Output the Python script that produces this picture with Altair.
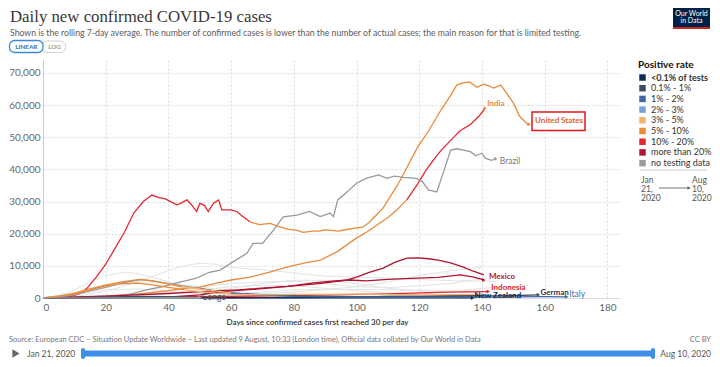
import altair as alt
import pandas as pd

# ---------------- data ----------------
RATE_CATS = ["<0.1% of tests", "0.1% - 1%", "1% - 2%", "2% - 3%", "3% - 5%",
             "5% - 10%", "10% - 20%", "more than 20%", "no testing data"]
RATE_COLORS = ["#102a54", "#3c4a64", "#3f67a6", "#78a2d8", "#f5b46d",
               "#ea8a3c", "#e5262d", "#b0132f", "#9a9a9a"]

X_TICKS = [0, 20, 40, 60, 80, 100, 120, 140, 160, 180]
Y_TICKS = [0, 10000, 20000, 30000, 40000, 50000, 60000, 70000]

# (days since 30 cases/day, thousand cases/day)
us_red = [(0, 0.03), (4, 0.2), (8, 0.5), (10, 0.8), (12, 1.5), (14, 3), (17, 6.5), (20, 10.5),
          (23, 15.5), (26, 20.5), (29, 26.5), (32, 30), (34.7, 32), (37, 31.2), (39, 30.8),
          (41, 29.8), (42.7, 29), (44, 29.5), (45.9, 30.5), (47, 29.4), (49, 26.9), (50, 29.4),
          (51.5, 28.8), (52.7, 26.9), (54.4, 29.5), (56, 30.5), (57, 27.4), (60, 27.4),
          (61.8, 26.9), (63.5, 25.5), (66, 23.7)]
us_orange = [(66, 23.7), (69, 22.8), (72.5, 23.2), (75, 22.3), (78, 21.4), (81, 21), (83, 20.4),
             (86, 20.8), (88, 20.8), (90, 21.2), (92, 21), (94, 20.8), (97, 21.3), (100, 21.8),
             (102, 22), (104, 23.5), (106, 25.5), (108.5, 28), (111, 32), (113, 35), (116, 40.5),
             (119.5, 47), (123, 52), (127, 58.6), (130, 63), (132, 66.3), (134, 66.9),
             (136, 67.2), (138.4, 65.5), (140.5, 66.5), (142, 66), (143.7, 65.3), (146, 66.2),
             (148, 63.5), (150, 60.6), (152, 56.5), (154, 54.5), (155, 54)]
india_orange = [(0, 0.03), (10, 0.2), (20, 0.5), (30, 1.2), (40, 2.3), (45, 3), (50, 3.4),
                (56, 4.8), (60, 5.6), (66, 6.5), (72, 8), (78, 9.7), (84, 11), (88.5, 11.8),
                (94, 14.5), (99, 18), (104, 21), (110, 25), (113, 27.5), (116, 30.5)]
india_red = [(116, 30.5), (119.5, 35.5), (122, 39.5), (124.6, 43), (127, 46), (130, 49),
             (133, 52), (136.4, 54), (139, 56.5), (141, 59)]
brazil = [(0, 0.03), (10, 0.2), (20, 0.6), (27, 1), (33, 2.5), (38, 3.5), (44, 5), (49, 6.2),
          (53, 8), (56.5, 8.7), (60.7, 11.3), (65, 13.9), (67, 17), (70, 17), (73.5, 21.1),
          (76.6, 25.2), (81, 25.8), (85, 26.9), (88.4, 25.3), (91.6, 26.4), (92.6, 25.3),
          (94, 30.5), (97, 33), (100, 35.7), (103, 37.2), (107, 38.3), (109.7, 37.2),
          (112, 37.9), (115, 37.5), (119, 37.2), (121, 36.2), (122.9, 33.6), (125.6, 33),
          (128, 40), (130, 46), (132, 46.4), (136.3, 45.5), (138, 44.2), (140, 45),
          (141, 43.5), (143, 42.8), (144.4, 43.3)]
south_africa = [(0, 0.03), (20, 0.1), (40, 0.3), (50, 1), (56, 1.8), (66, 2.8), (78, 3.6),
                (88, 4.5), (97, 5.6), (100, 6.5), (104, 8), (108.5, 9.3), (112, 11), (116, 12.4),
                (119.5, 12.5), (123, 12.2), (126, 11.8), (130, 10.9), (134, 9.6), (137, 8.4),
                (140.6, 7.2)]
mexico = [(0, 0.03), (20, 0.6), (40, 1.4), (56, 2.3), (66, 2.6), (78, 3.6), (87, 4.8), (93, 5.3),
          (98, 5.6), (103, 5.3), (110, 5.8), (119.5, 6.2), (126, 6.4), (133, 7.2), (137, 6.6),
          (140.6, 5.6)]
indonesia = [(0, 0.03), (20, 0.2), (40, 0.35), (60, 0.5), (80, 0.8), (100, 1.1), (110, 1.3),
             (120, 1.6), (130, 1.8), (142, 2.0)]
new_zealand = [(0, 0.03), (10, 0.06), (20, 0.04), (40, 0.02), (80, 0.02), (120, 0.03), (137, 0.03)]
japan = [(0, 0.03), (20, 0.3), (30, 0.5), (40, 0.4), (50, 0.2), (60, 0.08), (80, 0.1), (100, 0.3),
         (110, 0.5), (120, 0.6), (130, 0.7), (140, 0.8)]
germany_grey = [(0, 0.03), (5, 0.3), (10, 1), (15, 2.2), (20, 3.3), (25, 4.6), (31, 5.7),
                (35, 5.3), (40, 4.5), (45, 3.7), (50, 3)]
germany_slate = [(50, 3), (55, 2.2), (60, 1.5), (70, 0.9), (80, 0.6), (100, 0.4), (120, 0.45),
                 (140, 0.6), (150, 0.75), (158, 1.0)]
italy_orange = [(0, 0.03), (5, 0.5), (10, 1.5), (15, 2.8), (20, 4), (25, 5), (31, 5.8), (35, 5.3),
                (40, 4.4), (44, 3.5)]
italy_light = [(44, 3.5), (50, 2.8), (55, 2.2), (60, 1.6)]
italy_blue = [(60, 1.6), (70, 1.0), (80, 0.6), (90, 0.35), (100, 0.3), (120, 0.25), (140, 0.3),
              (160, 0.4), (167, 0.35)]
turkey_orange = [(0, 0.03), (10, 1.2), (15, 2.5), (20, 3.8), (25, 4.4), (30, 4.6), (35, 4.1),
                 (40, 3.3), (45, 2.6)]
turkey_light = [(45, 2.6), (50, 2), (55, 1.5), (60, 1.2), (70, 1), (80, 1.1), (100, 1.2),
                (120, 1.0), (140, 1.1)]
congo = [(0, 0.03), (20, 0.05), (40, 0.08), (50, 0.12)]

# faded (not highlighted) countries
spain = [(0, 0.03), (5, 0.8), (10, 2.5), (15, 5), (20, 7), (25, 7.8), (27, 8), (30, 7.6), (35, 6.5),
         (40, 5), (45, 4), (50, 3), (60, 1.2), (70, 0.5), (80, 0.3), (100, 0.3), (120, 1.2),
         (140, 3), (155, 4)]
russia = [(0, 0.03), (10, 0.4), (20, 2), (30, 5), (40, 8.5), (45, 10), (50, 10.8), (55, 10.5),
          (60, 9.5), (70, 8.8), (80, 7.8), (90, 6.8), (100, 6.5), (110, 6.2), (120, 5.7),
          (135, 5.3), (145, 5.2)]
uk = [(0, 0.03), (10, 1.5), (20, 4.2), (25, 4.8), (30, 5), (35, 4.9), (40, 4.5), (50, 3.5),
      (60, 2.2), (70, 1.3), (80, 0.9), (100, 0.6), (120, 0.7), (140, 0.8), (155, 0.9)]
peru = [(0, 0.03), (20, 0.8), (40, 2), (50, 3.5), (60, 4.5), (70, 5), (80, 5.2), (90, 4.5),
        (100, 3.5), (110, 3.2), (120, 3.8), (130, 4.5), (140, 6)]
chile = [(0, 0.03), (20, 0.3), (40, 0.5), (50, 1), (60, 3), (70, 4.5), (80, 5.5), (90, 5.5),
         (100, 4.5), (110, 3), (120, 2.2), (130, 2), (140, 1.9)]
colombia = [(0, 0.03), (30, 0.3), (60, 0.8), (80, 1.8), (100, 3.5), (110, 5), (120, 7),
            (130, 8.5), (140, 9.5)]
iran = [(0, 0.03), (10, 1), (20, 2.5), (30, 2.8), (40, 2.2), (50, 1.4), (60, 1.2), (70, 1.8),
        (80, 2.5), (100, 2.7), (120, 2.4), (140, 2.2)]
saudi = [(0, 0.03), (30, 1), (50, 2.5), (60, 3.5), (70, 4), (80, 3.8), (90, 3), (100, 2.3),
         (110, 1.6), (120, 1.3)]

SEGMENTS = [
    ("United States", "10% - 20%", us_red),
    ("United States", "5% - 10%", us_orange),
    ("India", "5% - 10%", india_orange),
    ("India", "10% - 20%", india_red),
    ("Brazil", "no testing data", brazil),
    ("South Africa", "more than 20%", south_africa),
    ("Mexico", "more than 20%", mexico),
    ("Indonesia", "10% - 20%", indonesia),
    ("Japan", "0.1% - 1%", japan),
    ("New Zealand", "<0.1% of tests", new_zealand),
    ("Germany", "no testing data", germany_grey),
    ("Germany", "0.1% - 1%", germany_slate),
    ("Italy", "5% - 10%", italy_orange),
    ("Italy", "3% - 5%", italy_light),
    ("Italy", "1% - 2%", italy_blue),
    ("Turkey", "5% - 10%", turkey_orange),
    ("Turkey", "3% - 5%", turkey_light),
    ("Congo", "no testing data", congo),
]
FADED = [("Spain", spain), ("Russia", russia), ("United Kingdom", uk), ("Peru", peru),
         ("Chile", chile), ("Colombia", colombia), ("Iran", iran), ("Saudi Arabia", saudi)]

# labelled line ends: country, rate of arrow, label text, dx, dy, colour, bold
LABELS = [
    ("United States", "5% - 10%", "United States", 6, -3, "#e3632b", True),
    ("India", "5% - 10%", "India", 2, -4, "#ea8a3c", True),
    ("Brazil", "no testing data", "Brazil", 4, 2, "#7a7a7a", False),
    ("Mexico", "more than 20%", "Mexico", 5, -3, "#b0132f", True),
    ("Indonesia", "10% - 20%", "Indonesia", 3, -3.5, "#e5262d", True),
    ("New Zealand", "<0.1% of tests", "New Zealand", 2, -1.7, "#102a54", True),
    ("Germany", "0.1% - 1%", "German", 2, -2, "#2b3752", True),
    ("Italy", "1% - 2%", "Italy", 2.5, -2.7, "#4a6fb0", False),
    ("Congo", "no testing data", "Congo", 2, -1, "#555555", False),
]

# ---------------- tables ----------------
rows = []
for i, (country, rate, pts) in enumerate(SEGMENTS):
    for d, v in pts:
        rows.append({"seg": i, "country": country, "rate": rate, "day": d, "cases": v * 1000})
lines_df = pd.DataFrame(rows)

frows = []
for country, pts in FADED:
    for d, v in pts:
        frows.append({"country": country, "day": d, "cases": v * 1000})
faded_df = pd.DataFrame(frows)

end_rows = []
for country, rate, text_, dx, dy, col, bold in LABELS:
    last = [p for c, r, p in SEGMENTS if c == country][-1][-1]
    end_rows.append({"country": country, "rate": rate, "day": last[0], "cases": last[1] * 1000,
                     "t": text_, "dx": dx, "dy": dy, "col": col, "bold": bold})
ends_df = pd.DataFrame(end_rows)
legend_df = pd.DataFrame({"rate": RATE_CATS})

# ---------------- chart ----------------
PAD_L, PAD_T, PAD_R, PAD_B = 35, 52, 92, 61
OX, OY = 8 + PAD_L, 8 + PAD_T   # page position of plot origin
W, H = 577, 238

xscale = alt.Scale(domain=[0, 184], nice=False, zero=False)
yscale = alt.Scale(domain=[0, 74000], nice=False)
cscale = alt.Scale(domain=RATE_CATS, range=RATE_COLORS)

x_axis = alt.Axis(values=X_TICKS, title="Days since confirmed cases first reached 30 per day",
                  grid=True, gridDash=[2, 2], gridColor="#dadada", domainColor="#dddddd",
                  ticks=False, labelFont="Lato", labelFontSize=10, labelColor="#666666",
                  labelPadding=4, titleFont="Lato", titleFontSize=8, titleFontWeight=600,
                  titleColor="#333333", titleX=274, titleY=24, titleAlign="center",
                  titleBaseline="middle")
y_axis = alt.Axis(values=Y_TICKS, title=None, grid=True, gridDash=[2, 2],
                  labelExpr="datum.value == 0 ? '0' : (datum.value / 1000) + ',000'",
                  gridColor="#dadada", domainColor="#cccccc", ticks=False, labelFont="Lato",
                  labelFontSize=10, labelColor="#666666", labelPadding=3)

X = alt.X("day:Q", scale=xscale, axis=x_axis)
Y = alt.Y("cases:Q", scale=yscale, axis=y_axis)

legend = alt.Legend(orient="none", legendX=595, legendY=0, title="Positive rate",
                    titleFont="Lato", titleFontSize=10, titleFontWeight="bold",
                    titleColor="#111111", titlePadding=3, labelFont="Lato", labelFontSize=9,
                    labelColor="#333333", labelLimit=120, symbolType="square", symbolSize=42,
                    symbolStrokeWidth=0, rowPadding=0.7,
                    labelFontWeight=alt.ExprRef(expr="datum.label == '<0.1% of tests' ? 'bold' : 'normal'"))

# legend carrier: squares placed outside the drawing area, first so its legend wins the merge
legend_layer = alt.Chart(legend_df).mark_square(filled=True, size=42, opacity=1).encode(
    x=alt.value(-500), y=alt.value(-500),
    color=alt.Color("rate:N", scale=cscale, legend=legend))

faded = alt.Chart(faded_df).mark_line(strokeWidth=1, color="#e3e3e3").encode(
    x=X, y=Y, detail="country:N", order="day:Q")

lines = alt.Chart(lines_df).mark_line(strokeWidth=1.3).encode(
    x=X, y=Y, color=alt.Color("rate:N", scale=cscale, legend=None),
    detail="seg:N", order="day:Q")

arrows = alt.Chart(ends_df).mark_point(shape="triangle-right", filled=True, size=16,
                                       opacity=1).encode(
    x=X, y=Y, color=alt.Color("rate:N", scale=cscale, legend=None))

layers = [legend_layer, faded, lines, arrows]


def rect(x1, y1, x2, y2, fill="white", stroke=None, sw=1.0, cr=0):
    kw = dict(fill=fill, strokeWidth=sw, cornerRadius=cr)
    if stroke:
        kw["stroke"] = stroke
    return alt.Chart(pd.DataFrame({"a": [0]})).mark_rect(**kw).encode(
        x=alt.value(x1 - OX), x2=alt.value(x2 - OX), y=alt.value(y1 - OY), y2=alt.value(y2 - OY))


def text(t, x, y, size=9, color="#333333", weight="normal", align="left", baseline="middle",
         font="Lato"):
    return alt.Chart(pd.DataFrame({"t": [t]})).mark_text(
        fontSize=size, color=color, fontWeight=weight, align=align, baseline=baseline,
        font=font).encode(x=alt.value(x - OX), y=alt.value(y - OY), text="t:N")


# US highlight box (behind its label)
layers.append(rect(532, 112, 585, 130.5, fill="white", stroke="#e2161b", sw=1.5))

for _, r in ends_df.iterrows():
    sub = ends_df[ends_df["country"] == r["country"]]
    layers.append(alt.Chart(sub).mark_text(
        align="left", baseline="middle", dx=float(r["dx"]), dy=float(r["dy"]), font="Lato",
        fontSize=8 if r["bold"] else 8.5, fontWeight="bold" if r["bold"] else "normal",
        color=r["col"]).encode(x=X, y=Y, text="t:N"))

# header
layers += [
    text("Daily new confirmed COVID-19 cases", 10, 22, size=16.8, color="#373737",
         baseline="alphabetic", font="Liberation Serif"),
    text("Shown is the rolling 7-day average. The number of confirmed cases is lower than the "
         "number of actual cases; the main reason for that is limited testing.", 10, 32.5,
         size=8.7, color="#5b5b5b"),
    rect(42, 41, 65.5, 52.5, fill="white", stroke="#cfcfcf", sw=1, cr=5),
    rect(9.5, 40.5, 43, 52.5, fill="white", stroke="#3b8ad9", sw=1.3, cr=5),
    text("LINEAR", 26.3, 46.6, size=6.3, color="#2f6db5", weight="bold", align="center"),
    text("LOG", 54.5, 46.6, size=6.3, color="#777777", align="center"),
    rect(673, 8, 710, 29, fill="#002147"),
    rect(673, 27, 710, 29, fill="#ce261e"),
    text("Our World", 691.5, 13.5, size=7, color="white", align="center"),
    text("in Data", 691.5, 20.5, size=7, color="white", align="center"),
]

# timeline legend below colour legend
layers += [
    alt.Chart(pd.DataFrame({"a": [0]})).mark_rule(color="#cccccc", strokeWidth=1).encode(
        x=alt.value(640 - OX), x2=alt.value(707 - OX), y=alt.value(170 - OY)),
    text("Jan", 641, 179.5, size=8.5, color="#555555"),
    text("21,", 641, 188.5, size=8.5, color="#555555"),
    text("2020", 641, 197.5, size=8.5, color="#555555"),
    text("Aug", 692, 179.5, size=8.5, color="#555555"),
    text("10,", 692, 188.5, size=8.5, color="#555555"),
    text("2020", 692, 197.5, size=8.5, color="#555555"),
    alt.Chart(pd.DataFrame({"a": [0]})).mark_rule(color="#555555", strokeWidth=0.8).encode(
        x=alt.value(659 - OX), x2=alt.value(689 - OX), y=alt.value(188 - OY)),
    alt.Chart(pd.DataFrame({"a": [0]})).mark_point(shape="triangle-right", filled=True, size=12,
                                                     color="#555555", opacity=1).encode(
        x=alt.value(689 - OX), y=alt.value(188 - OY)),
]

# footer
layers += [
    text("Source: European CDC – Situation Update Worldwide – Last updated 9 August, 10:33 "
         "(London time), Official data collated by Our World in Data", 9, 339.5, size=7.5,
         color="#777777"),
    text("CC BY", 711, 339.5, size=7.5, color="#777777", align="right"),
    alt.Chart(pd.DataFrame({"a": [0]})).mark_point(shape="triangle-right", filled=True, size=70,
                                                     color="#666666", opacity=1).encode(
        x=alt.value(16 - OX), y=alt.value(353.5 - OY)),
    text("Jan 21, 2020", 27, 353.5, size=8.5, color="#555555"),
    rect(82, 350.5, 654, 356.5, fill="#3d8ee8", cr=3),
    rect(81, 348, 85, 359, fill="#3d8ee8", cr=2),
    rect(651, 348, 655, 359, fill="#3d8ee8", cr=2),
    text("Aug 10, 2020", 711, 353.5, size=8.5, color="#555555", align="right"),
]

chart = alt.layer(*layers).properties(
    width=W, height=H,
    padding={"left": PAD_L, "top": PAD_T, "right": PAD_R, "bottom": PAD_B},
    autosize=alt.AutoSizeParams(type="none"),
    background="white",
).configure_view(stroke=None)

chart.save("out.html", embed_options={"renderer": "svg", "actions": False})
